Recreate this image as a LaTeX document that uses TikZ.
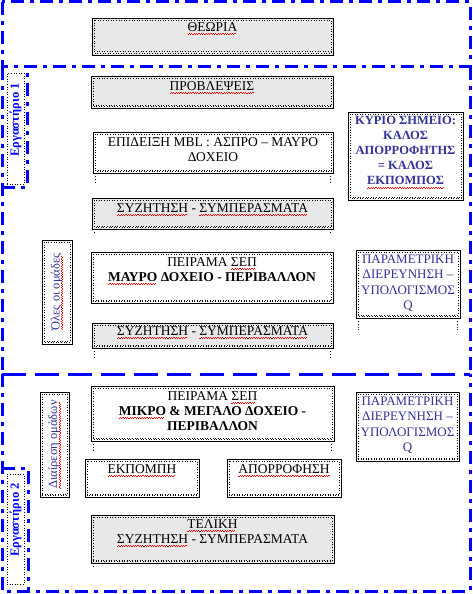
\documentclass[tikz,border=0pt]{standalone}
\usepackage{fontspec}
\setmainfont{Liberation Serif}
\usetikzlibrary{positioning}
\definecolor{labblue}{RGB}{0,0,255}
\definecolor{noteblue}{RGB}{51,51,153}
\definecolor{boxgray}{RGB}{232,232,232}
% red wavy underline, as a spell checker draws it
\newcommand\sqg[1]{\setbox0\hbox{#1}\leavevmode\rlap{\textcolor{red}{\hbox to\wd0{\leaders\hbox{\raisebox{-3.4pt}{\rule{1.2pt}{0.7pt}}\raisebox{-2.4pt}{\rule{1.2pt}{0.7pt}}}\hfill}}}\box0\relax}
\newcommand{\bigtxt}{\fontsize{13.5}{15}\selectfont}
\newcommand{\sidetxt}{\fontsize{12.5}{14}\selectfont}
\tikzset{
  lab/.style={draw=labblue,line width=3pt,dash pattern=on 13pt off 6pt on 4pt off 6pt},
  labsep/.style={draw=labblue,line width=3pt,dash pattern=on 24pt off 9pt},
  dotbox/.style={rectangle,draw=black,line width=0.9pt,inner sep=0pt,
    path picture={
      \draw[black,dotted,line width=0.6pt]
        ([shift={(2pt,-2pt)}]path picture bounding box.north west) rectangle
        ([shift={(-2pt,2pt)}]path picture bounding box.south east);
      \draw[black,dotted,line width=0.6pt]
        ([shift={(2pt,3.2pt)}]path picture bounding box.south west) --
        ([shift={(-2pt,3.2pt)}]path picture bounding box.south east);}},
  gbox/.style={dotbox,fill=boxgray},
  wbox/.style={dotbox,fill=white},
  erglbl/.style={draw=black,dotted,line width=0.6pt,inner sep=0pt},
  boxtxt/.style={font=\bigtxt,align=center,inner sep=0pt},
  notetxt/.style={boxtxt,text=noteblue,font=\fontsize{13}{15.5}\selectfont},
  sidelbl/.style={font=\sidetxt,text=noteblue,inner sep=0pt,rotate=90},
  ergtxt/.style={font=\sidetxt\bfseries,text=labblue,inner sep=0pt,rotate=90},
  shadetick/.style={black,dotted,line width=0.7pt},
}
\begin{document}
\begin{tikzpicture}[x=1pt,y=-1pt]
  \useasboundingbox (0,0) rectangle (473,594);
  % frames
  \draw[lab] (2,2) rectangle (470,67);
  \draw[lab] (2,67) -- (2,374) (470,67) -- (470,374);
  \draw[labsep] (2,374) -- (470,374);
  \draw[lab] (2,374) -- (2,591) -- (470,591) -- (470,374);
  \draw[lab] (2,187) -- (27,187) -- (27,67);
  \draw[lab] (2,468) -- (28,468) -- (28,591);

  % main column
  \node[gbox,minimum width=241pt,minimum height=37pt] (theoria) at (212.5,36.5) {};
  \node[gbox,minimum width=242pt,minimum height=32pt] (provl) at (212,92) {};
  \node[wbox,minimum width=240pt,minimum height=41pt] (epid) at (213,152.5) {};
  \node[gbox,minimum width=241pt,minimum height=31pt] (syz1) at (212.5,213.5) {};
  \node[wbox,minimum width=242pt,minimum height=51pt] (peir1) at (212,277.5) {};
  \node[gbox,minimum width=241pt,minimum height=25pt] (syz2) at (212.5,335.5) {};
  \node[wbox,minimum width=243pt,minimum height=55pt] (peir2) at (212.5,413.5) {};
  \node[wbox,minimum width=114pt,minimum height=38pt] (ekp) at (142,478) {};
  \node[wbox,minimum width=114pt,minimum height=38pt] (apor) at (284,478) {};
  \node[gbox,minimum width=243pt,minimum height=48pt] (teliki) at (212.5,539) {};

  \node[boxtxt,below=5pt of theoria.north] {\sqg{ΘΕΩΡΙΑ}};
  \node[boxtxt,below=6pt of provl.north] {\sqg{ΠΡΟΒΛΕΨΕΙΣ}};
  \node[boxtxt,below=6pt of epid.north] {ΕΠΙΔΕΙΞΗ MBL : ΑΣΠΡΟ – ΜΑΥΡΟ\\ΔΟΧΕΙΟ};
  \node[boxtxt,below=6pt of syz1.north] {\sqg{ΣΥΖΗΤΗΣΗ} - \sqg{ΣΥΜΠΕΡΑΣΜΑΤΑ}};
  \node[boxtxt,below=6pt of peir1.north]
    {ΠΕΙΡΑΜΑ \sqg{ΣΕΠ}\\\textbf{\sqg{ΜΑΥΡΟ} ΔΟΧΕΙΟ - ΠΕΡΙΒΑΛΛΟΝ}};
  \node[boxtxt,below=4pt of syz2.north] {\sqg{ΣΥΖΗΤΗΣΗ} - \sqg{ΣΥΜΠΕΡΑΣΜΑΤΑ}};
  \node[boxtxt,below=6pt of peir2.north]
    {ΠΕΙΡΑΜΑ \sqg{ΣΕΠ}\\\textbf{\sqg{ΜΙΚΡΟ} \& ΜΕΓΑΛΟ ΔΟΧΕΙΟ -}\\\textbf{ΠΕΡΙΒΑΛΛΟΝ}};
  \node[boxtxt,below=6pt of ekp.north] {\sqg{ΕΚΠΟΜΠΗ}};
  \node[boxtxt,below=6pt of apor.north] {\sqg{ΑΠΟΡΡΟΦΗΣΗ}};
  \node[boxtxt,below=5pt of teliki.north]
    {\sqg{ΤΕΛΙΚΗ}\\\sqg{ΣΥΖΗΤΗΣΗ} - ΣΥΜΠΕΡΑΣΜΑΤΑ};

  % notes on the right
  \node[wbox,minimum width=115pt,minimum height=88pt] (kyrio) at (405.5,156) {};
  \node[wbox,minimum width=104pt,minimum height=68pt] (param1) at (408,284) {};
  \node[wbox,minimum width=103pt,minimum height=69pt] (param2) at (407.5,426.5) {};
  \node[notetxt,font=\fontsize{12.5}{15.2}\selectfont\bfseries,below=4pt of kyrio.north]
    {ΚΥΡΙΟ ΣΗΜΕΙΟ:\\ΚΑΛΟΣ\\ΑΠΟΡΡΟΦΗΤΗΣ\\= ΚΑΛΟΣ\\\sqg{ΕΚΠΟΜΠΟΣ}};
  \node[notetxt,below=5pt of param1.north]
    {ΠΑΡΑΜΕΤΡΙΚΗ\\ΔΙΕΡΕΥΝΗΣΗ –\\ΥΠΟΛΟΓΙΣΜΟΣ\\Q};
  \node[notetxt,below=5pt of param2.north]
    {ΠΑΡΑΜΕΤΡΙΚΗ\\ΔΙΕΡΕΥΝΗΣΗ –\\ΥΠΟΛΟΓΙΣΜΟΣ\\Q};

  % side labels
  \node[wbox,minimum width=30pt,minimum height=104pt] (oles) at (57,292) {};
  \node[wbox,minimum width=29pt,minimum height=105pt] (diair) at (54.5,444.5) {};
  \node[sidelbl] at (oles.center) {\sqg{Όλες οι ομάδες}};
  \node[sidelbl] at (diair.center) {\sqg{Διαίρεση ομάδων}};
  \node[erglbl,minimum width=17pt,minimum height=111pt] (erg1) at (15.5,128.5) {};
  \node[erglbl,minimum width=17pt,minimum height=110pt] (erg2) at (15.5,529) {};
  \node[ergtxt] at ([yshift=8.5pt]erg1.center) {Εργαστήριο 1};
  \node[ergtxt] at ([yshift=9pt]erg2.center) {Εργαστήριο 2};

  % shadow ticks under the boxes
  \foreach \n/\l in {provl/2,epid/9,syz1/4,syz2/10,peir2/10,teliki/3}
    \draw[shadetick] ([xshift=3pt]\n.south west) -- ++(0,\l);
  \foreach \n/\l in {epid/9,syz1/4,syz2/10,peir2/10}
    \draw[shadetick] ([xshift=-3pt]\n.south east) -- ++(0,\l);
  \draw[shadetick] ([xshift=3pt]param1.south west) -- ++(0,12);
  \draw[shadetick] ([xshift=-3pt]param1.south east) -- ++(0,12);
\end{tikzpicture}
\end{document}
